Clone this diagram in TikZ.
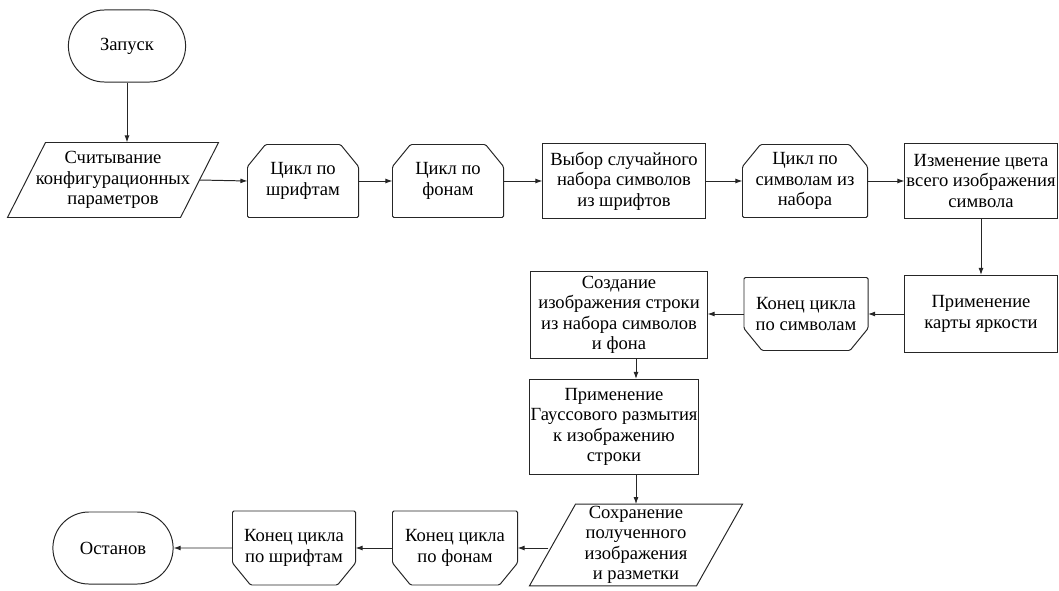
\documentclass[tikz,border=0pt]{standalone}
\usepackage{fontspec}
\setmainfont{Liberation Serif}
\usetikzlibrary{shapes.misc, arrows.meta, calc}

\tikzset{
    base/.style={draw=black!85, line width=0.7pt, align=center, inner sep=1pt,
        font=\fontsize{13.2}{14.6}\selectfont},
    terminal/.style={base, rounded rectangle, minimum width=3cm, minimum height=1.8cm},
    process/.style={base, rectangle},
    hidden/.style={base, draw=none, rectangle},
    outline/.style={draw=black!85, line width=0.7pt, rounded corners=1pt},
    flow/.style={draw=black!85, line width=0.7pt, -{Latex[length=5pt, width=3.5pt]}}
}

\begin{document}
\begin{tikzpicture}[x=0.025cm, y=-0.025cm]
    \useasboundingbox (0,0) rectangle (1059,591);

    % first row
    \node[terminal] (start) at (127,46) {Запуск};
    \node[hidden, minimum width=4.3cm, minimum height=1.85cm] (read) at (113,180)
        {Считывание\\конфигурационных\\параметров};
    \node[hidden, minimum width=2.75cm, minimum height=1.8cm] (fontloop) at (303,181) {Цикл по\\шрифтам};
    \node[hidden, minimum width=2.75cm, minimum height=1.8cm] (bgloop) at (448,181) {Цикл по\\фонам};
    \node[process, minimum width=4.05cm, minimum height=1.875cm] (pick) at (624,181)
        {Выбор случайного\\набора символов\\из шрифтов};
    \node[hidden, minimum width=3.1cm, minimum height=1.8cm] (charloop) at (805,181)
        {Цикл по\\символам из\\набора};
    \node[process, minimum width=3.8cm, minimum height=1.875cm] (recolor) at (981,181)
        {Изменение цвета\\всего изображения\\символа};

    % second row
    \node[process, minimum width=3.8cm, minimum height=1.925cm] (bright) at (981,314)
        {Применение\\карты яркости};
    \node[hidden, minimum width=3.075cm, minimum height=1.8cm] (charend) at (806,314)
        {Конец цикла\\по символам};
    \node[process, minimum width=4.4cm, minimum height=2.15cm] (compose) at (619,315)
        {Создание\\изображения строки\\из набора символов\\и фона};

    % blur and save
    \node[process, minimum width=4.15cm, minimum height=2.375cm] (blur) at (614,427)
        {Применение\\Гауссового размытия\\к изображению\\строки};
    \node[hidden, minimum width=4.15cm, minimum height=2cm] (save) at (636,545)
        {Сохранение\\полученного\\изображения\\и разметки};

    % last row
    \node[hidden, minimum width=3.1cm, minimum height=1.825cm] (bgend) at (455,548)
        {Конец цикла\\по фонам};
    \node[hidden, minimum width=3.05cm, minimum height=1.825cm] (fontend) at (294,548)
        {Конец цикла\\по шрифтам};
    \node[terminal, minimum width=3.075cm] (stop) at (113,548) {Останов};

    % parallelograms (slant in px)
    \foreach \n/\s in {read/38, save/46}
        \draw[outline, rounded corners=0pt] ($(\n.north west)+(\s/2,0)$) -- ($(\n.north east)+(\s/2,0)$)
            -- ($(\n.south east)+(-\s/2,0)$) -- ($(\n.south west)+(-\s/2,0)$) -- cycle;

    % loop outlines: cut corners on top for a start, at the bottom for an end
    \foreach \n in {fontloop, bgloop, charloop}
        \draw[outline] (\n.south west) -- ($(\n.north west)+(0,22)$)
            -- ($(\n.north west)+(18,0)$) -- ($(\n.north east)+(-18,0)$)
            -- ($(\n.north east)+(0,22)$) -- (\n.south east) -- cycle;
    \foreach \n in {charend, bgend, fontend}
        \draw[outline] (\n.north west) -- ($(\n.south west)+(0,-22)$)
            -- ($(\n.south west)+(18,0)$) -- ($(\n.south east)+(-18,0)$)
            -- ($(\n.south east)+(0,-22)$) -- (\n.north east) -- cycle;

    % connectors
    \draw[flow] (start.south) -- (start.south |- read.north);
    \draw[flow] (read.east) -- (fontloop.west);
    \draw[flow] (fontloop) -- (bgloop);
    \draw[flow] (bgloop) -- (pick);
    \draw[flow] (pick) -- (charloop);
    \draw[flow] (charloop) -- (recolor);
    \draw[flow] (recolor) -- (bright);
    \draw[flow] (bright) -- (charend);
    \draw[flow] (charend) -- (compose.east |- charend);
    \draw[flow] (compose.south -| save.north) -- (blur.north -| save.north);
    \draw[flow] (blur.south -| save.north) -- (save.north);
    \draw[flow] ($(save.west |- bgend)+(-4,0)$) -- (bgend.east);
    \draw[flow] (bgend) -- (fontend);
    \draw[flow] (fontend) -- (stop);
\end{tikzpicture}
\end{document}
